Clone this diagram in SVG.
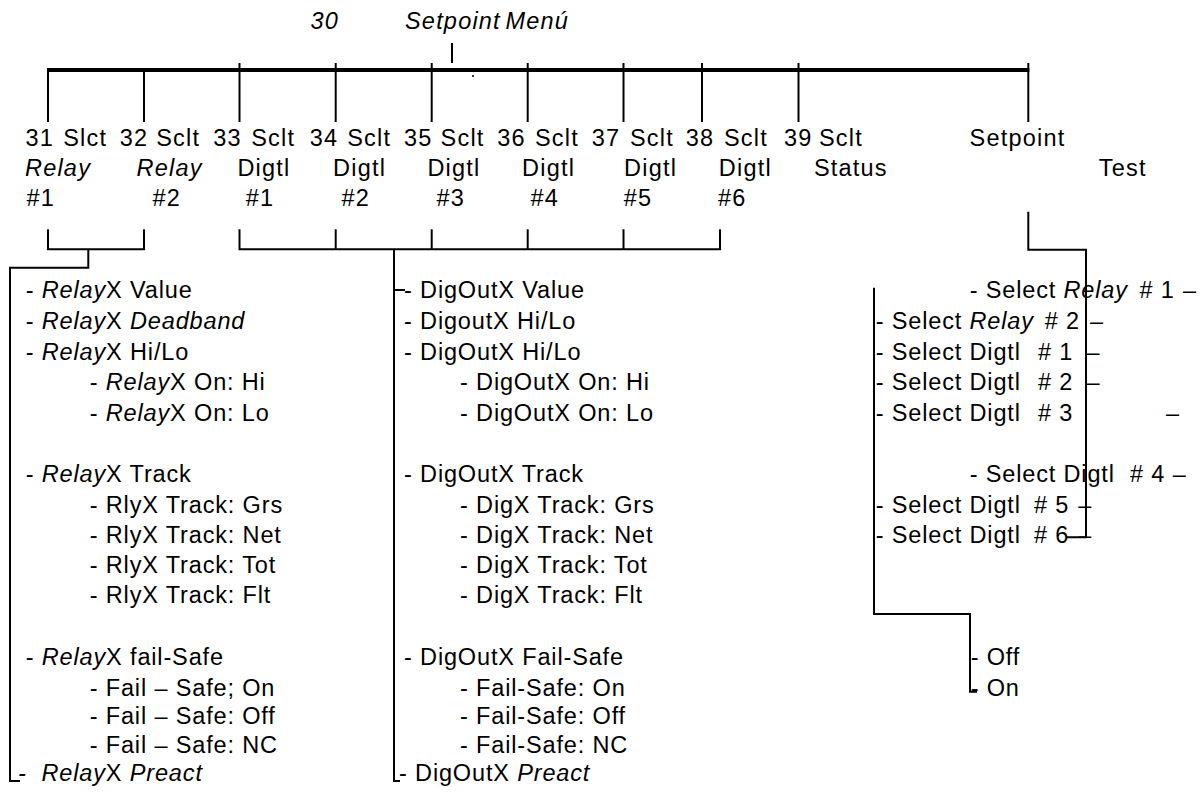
<svg xmlns="http://www.w3.org/2000/svg" width="1202" height="794" viewBox="0 0 1202 794">
<style>
text{font-family:"Liberation Sans",Arial,Helvetica,sans-serif;font-size:23.5px;fill:#000;letter-spacing:0.85px}
.h{letter-spacing:1.2px}
.i{font-style:italic}
.ln{stroke:#000;stroke-width:2;fill:none}
.thick{stroke:#000;stroke-width:4;fill:none}
</style>
<rect width="1202" height="794" fill="#fff"/>
<g id="connectors">
  <line class="thick" x1="47" y1="70" x2="1029.3" y2="70"/>
  <line class="ln" x1="452" y1="43" x2="452" y2="63"/>
  <circle cx="473" cy="76" r="1" fill="#000"/>
  <path class="ln" d="M48 70V122M144 70V122M239.5 63V122M335.7 63V122M431.7 63V122M527.7 63V122M623.5 63V122M702 63V122M798.5 63V122M1028.3 63V122"/>
  <path class="ln" d="M48 229.3V249.3H144V229.3M88.3 249.3V267.7H10V781H20"/>
  <path class="ln" d="M239.5 229.3V249.3H720V229.3M335.7 229.3V249.3M431.7 229.3V249.3M527.7 229.3V249.3M623.5 229.3V249.3M394 249.3V781H400M394 290H405"/>
  <path class="ln" d="M1028.3 211.7V249.7H1086V537.3H1066.7"/>
  <path class="ln" d="M874 287.7V614H970V691.7H977"/>
</g>
<g id="title">
  <text class="h i" y="29"><tspan x="310.5">30</tspan> <tspan x="405">Setpoint</tspan> <tspan x="505.5">Menú</tspan></text>
</g>
<g id="col31"><text class="h" y="145.7"><tspan x="25.6">31</tspan> <tspan x="63.2">Slct</tspan></text><text class="h i" x="25" y="176">Relay</text><text class="h" x="26.4" y="206">#1</text></g>
<g id="col32"><text class="h" y="145.7"><tspan x="119.7">32</tspan> <tspan x="156.2">Sclt</tspan></text><text class="h i" x="136.6" y="176">Relay</text><text class="h" x="152.4" y="206">#2</text></g>
<g id="col33"><text class="h" y="145.7"><tspan x="213.3">33</tspan> <tspan x="251.2">Sclt</tspan></text><text class="h" x="237.4" y="176">Digtl</text><text class="h" x="245.7" y="206">#1</text></g>
<g id="col34"><text class="h" y="145.7"><tspan x="309.7">34</tspan> <tspan x="347.2">Sclt</tspan></text><text class="h" x="333.1" y="176">Digtl</text><text class="h" x="341.4" y="206">#2</text></g>
<g id="col35"><text class="h" y="145.7"><tspan x="404">35</tspan> <tspan x="440.6">Sclt</tspan></text><text class="h" x="427.4" y="176">Digtl</text><text class="h" x="436.4" y="206">#3</text></g>
<g id="col36"><text class="h" y="145.7"><tspan x="497.3">36</tspan> <tspan x="534.9">Sclt</tspan></text><text class="h" x="522.1" y="176">Digtl</text><text class="h" x="530.4" y="206">#4</text></g>
<g id="col37"><text class="h" y="145.7"><tspan x="591.7">37</tspan> <tspan x="629.9">Sclt</tspan></text><text class="h" x="624.1" y="176">Digtl</text><text class="h" x="623.7" y="206">#5</text></g>
<g id="col38"><text class="h" y="145.7"><tspan x="685.7">38</tspan> <tspan x="723.9">Sclt</tspan></text><text class="h" x="718.8" y="176">Digtl</text><text class="h" x="718" y="206">#6</text></g>
<g id="col39"><text class="h" y="145.7"><tspan x="784">39</tspan> <tspan x="818.9">Sclt</tspan></text><text class="h" x="813.9" y="176">Status</text></g>
<g id="setpoint-test"><text class="h" x="969.6" y="145.7">Setpoint</text><text class="h" x="1098.8" y="176">Test</text></g>
<g id="relay-list">
  <text x="25.7" y="298">- <tspan class="i">Relay</tspan>X Value</text>
  <text x="25.7" y="329">- <tspan class="i">Relay</tspan>X <tspan class="i">Deadband</tspan></text>
  <text x="25.7" y="359.5">- <tspan class="i">Relay</tspan>X Hi/Lo</text>
  <text x="89.7" y="389.5">- <tspan class="i">Relay</tspan>X On: Hi</text>
  <text x="89.7" y="421">- <tspan class="i">Relay</tspan>X On: Lo</text>
  <text x="25.7" y="482">- <tspan class="i">Relay</tspan>X Track</text>
  <text x="89.7" y="512.7">- RlyX Track: Grs</text>
  <text x="89.7" y="543.3">- RlyX Track: Net</text>
  <text x="89.7" y="573">- RlyX Track: Tot</text>
  <text x="89.7" y="603.3">- RlyX Track: Flt</text>
  <text x="25.7" y="665">- <tspan class="i">Relay</tspan>X fail-Safe</text>
  <text x="89.7" y="695.7">- Fail – Safe; On</text>
  <text x="89.7" y="724">- Fail – Safe: Off</text>
  <text x="89.7" y="753.3">- Fail – Safe: NC</text>
  <text y="781"><tspan class="i" x="18">-</tspan> <tspan class="i" x="41.5">Relay</tspan>X <tspan class="i">Preact</tspan></text>
</g>
<g id="digout-list">
  <text x="404" y="298">- DigOutX Value</text>
  <text x="404" y="329">- DigoutX Hi/Lo</text>
  <text x="404" y="359.5">- DigOutX Hi/Lo</text>
  <text x="460" y="389.5">- DigOutX On: Hi</text>
  <text x="460" y="421">- DigOutX On: Lo</text>
  <text x="404" y="482">- DigOutX Track</text>
  <text x="460" y="512.7">- DigX Track: Grs</text>
  <text x="460" y="543.3">- DigX Track: Net</text>
  <text x="460" y="573">- DigX Track: Tot</text>
  <text x="460" y="603.3">- DigX Track: Flt</text>
  <text x="404" y="665">- DigOutX Fail-Safe</text>
  <text x="460" y="695.7">- Fail-Safe: On</text>
  <text x="460" y="724">- Fail-Safe: Off</text>
  <text x="460" y="753.3">- Fail-Safe: NC</text>
  <text x="399" y="781">- DigOutX <tspan class="i">Preact</tspan></text>
</g>
<g id="test-list">
  <text x="969.7" y="298">- Select <tspan class="i">Relay</tspan> <tspan x="1139.5"># 1</tspan> <tspan x="1183">–</tspan></text>
  <text x="875.7" y="329">- Select <tspan class="i">Relay</tspan> <tspan x="1044.8"># 2</tspan> <tspan x="1090">–</tspan></text>
  <text x="875.7" y="359.5">- Select Digtl <tspan x="1038"># 1</tspan> <tspan x="1086.5">–</tspan></text>
  <text x="875.7" y="389.5">- Select Digtl <tspan x="1038"># 2</tspan> <tspan x="1086.5">–</tspan></text>
  <text x="875.7" y="421">- Select Digtl <tspan x="1038"># 3</tspan> <tspan x="1166">–</tspan></text>
  <text x="969.7" y="482">- Select Digtl <tspan x="1130"># 4</tspan> <tspan x="1172.7">–</tspan></text>
  <text x="875.7" y="512.7">- Select Digtl <tspan x="1034"># 5</tspan> <tspan x="1078.3">–</tspan></text>
  <text x="875.7" y="543.3">- Select Digtl <tspan x="1034"># 6</tspan> <tspan x="1078.3">–</tspan></text>
</g>
<g id="onoff-list">
  <text x="970.7" y="665">- Off</text>
  <text x="970.7" y="696">- On</text>
</g>
</svg>
